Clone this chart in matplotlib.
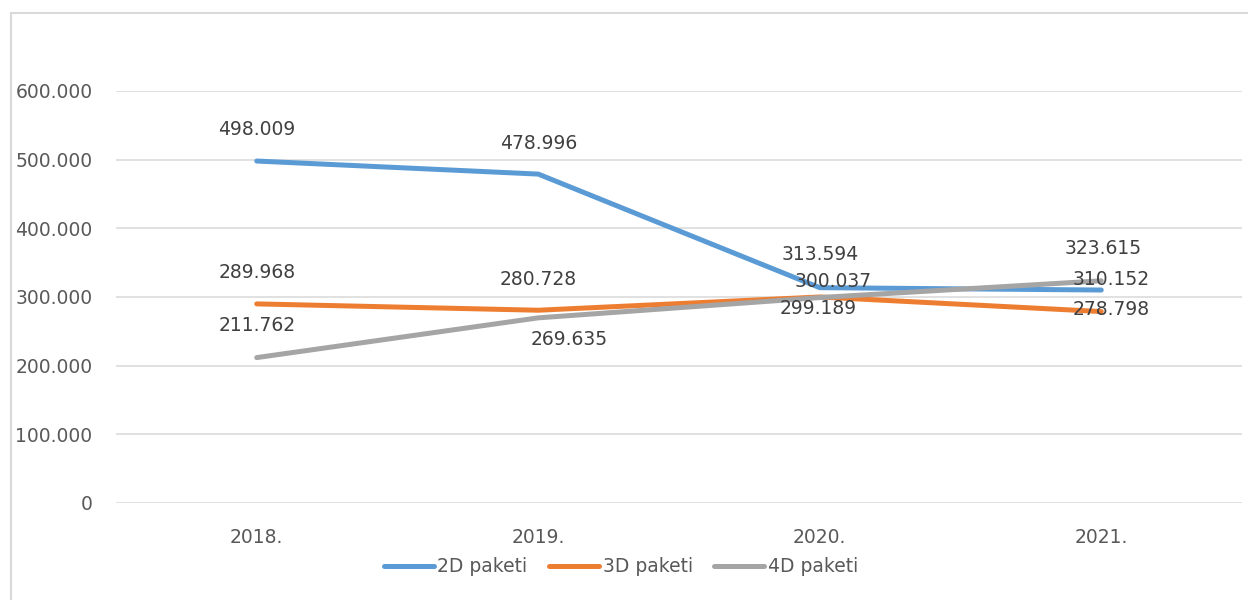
import matplotlib
matplotlib.use("Agg")
import matplotlib.pyplot as plt
from matplotlib.patches import Rectangle

years = ["2018.", "2019.", "2020.", "2021."]
paketi_2d = [498.009, 478.996, 313.594, 310.152]
paketi_3d = [289.968, 280.728, 300.037, 278.798]
paketi_4d = [211.762, 269.635, 299.189, 323.615]
series_names = ["2D paketi", "3D paketi", "4D paketi"]
yticks = [0, 100, 200, 300, 400, 500, 600]
ytick_labels = ["0", "100.000", "200.000", "300.000", "400.000", "500.000", "600.000"]

colors_ = ["#5B9BD5", "#ED7D31", "#A5A5A5"]
# label offsets in pixels (dx, dy)
offsets = [
    [(0, 32), (0, 31), (0, 33), (10, 11)],
    [(0, 31), (0, 31), (13, 15), (10, 2)],
    [(0, 32), (31, -22), (-2, -11), (2, 32)],
]

plt.rcParams['font.family'] = ['DejaVu Sans']
fs = 13.5
txt_col = "#595959"

fig = plt.figure(figsize=(12.48, 6), dpi=100)
fig.patches.append(Rectangle((11 / 1248, -0.1), 1.2, 1 - 13 / 600 + 0.1,
                             transform=fig.transFigure, fill=False,
                             edgecolor="#D9D9D9", linewidth=1.5))

ax = fig.add_axes([116 / 1248, 1 - 503 / 600, 1126 / 1248, 412 / 600])
x = list(range(len(years)))
all_series = [paketi_2d, paketi_3d, paketi_4d]
for i, (vals, name) in enumerate(zip(all_series, series_names)):
    ax.plot(x, vals, color=colors_[i], lw=3.6, solid_capstyle='round',
            solid_joinstyle='round', label=name, zorder=3 + i)

for i, vals in enumerate(all_series):
    for j, v in enumerate(vals):
        ax.annotate(f"{v:.3f}", (x[j], v), xytext=offsets[i][j],
                    textcoords='offset pixels', ha='center', va='center',
                    fontsize=fs, color="#404040", zorder=10,
                    annotation_clip=False)

ax.set_xlim(-0.5, 3.5)
ax.set_ylim(0, 600)
ax.set_yticks(yticks)
ax.set_yticklabels(ytick_labels)
ax.set_xticks(x)
ax.set_xticklabels(years)
ax.tick_params(axis='y', length=0, pad=17, labelsize=fs, labelcolor=txt_col)
ax.tick_params(axis='x', length=0, pad=18, labelsize=fs, labelcolor=txt_col)
ax.grid(axis='y', color="#D9D9D9", lw=1.1, zorder=0)
ax.set_axisbelow(True)
for s in ax.spines.values():
    s.set_visible(False)

fig.legend(loc='center', bbox_to_anchor=(621 / 1248, 1 - 567 / 600), ncol=3,
           frameon=False, fontsize=fs, handlelength=2.65, handletextpad=0.2,
           columnspacing=1.15, labelcolor=txt_col)

plt.savefig("out.png", dpi=100)
